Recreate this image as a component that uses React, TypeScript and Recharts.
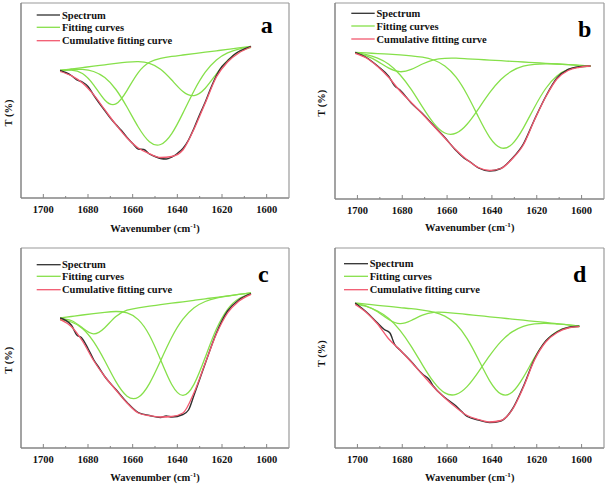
import { LineChart, Line, XAxis, YAxis } from "recharts";

// x axis ticks (wavenumber, cm-1); labels on every second one
const TICKS = [1600, 1610, 1620, 1630, 1640, 1650, 1660, 1670, 1680, 1690, 1700];
const LEGEND_NAMES = ["Spectrum", "Fitting curves", "Cumulative fitting curve"];

// ---- panel a ----
const W_A = [1692.5, 1687.5, 1682.5, 1677.5, 1672.5, 1667.5, 1662.5, 1657.5, 1652.5, 1647.5, 1642.5, 1637.5, 1632.5, 1627.5, 1622.5, 1617.5, 1612.5, 1607];
const FIT_A1 = [127.5, 127.8, 124.5, 113.2, 98.0, 94.1, 107.7, 125.4, 135.7, 139.7, 141.6, 143.0, 144.4, 145.8, 147.2, 148.6, 150.1, 151.6];
const FIT_A2 = [127.5, 128.5, 128.6, 126.5, 120.4, 108.5, 90.7, 71.0, 56.3, 53.5, 64.4, 84.9, 107.3, 125.8, 138.1, 145.1, 148.9, 151.3];
const FIT_A3 = [127.6, 129.0, 130.4, 131.8, 133.2, 134.6, 135.8, 136.3, 134.7, 128.8, 118.0, 106.5, 102.4, 109.8, 124.2, 137.6, 146.2, 150.7];
const CUM_A = [126.5, 122.3, 115, 103.3, 88.3, 73.3, 60, 50, 44.3, 40.5, 41.5, 48, 69, 95, 121, 136, 145, 151];
const SPEC_A_W = [1692.5, 1690, 1687.5, 1685, 1682.5, 1680, 1677.5, 1675, 1672.5, 1670, 1667.5, 1665, 1662.5, 1660, 1657.5, 1655, 1652.5, 1650, 1647.5, 1645, 1642.5, 1640, 1637.5, 1635, 1632.5, 1630, 1627.5, 1625, 1622.5, 1620, 1617.5, 1615, 1612.5, 1610, 1607];
const SPEC_A = [127.6, 125.5, 122.5, 118, 116, 111.5, 103, 95, 87.5, 80, 73.5, 67.5, 60.5, 54.5, 49, 48.5, 44, 41.5, 39.5, 39, 41, 44.5, 49.5, 58, 70, 83.5, 96, 110, 122.5, 131.5, 137, 142.5, 146.5, 149, 151.6];

// ---- panel b ----
const W_B = [1701, 1696, 1691, 1686, 1681, 1676, 1671, 1666, 1661, 1656, 1651, 1646, 1641, 1636, 1631, 1626, 1621, 1616, 1611, 1606, 1601, 1596];
const FIT_B1 = [145.9, 143.1, 137.6, 130.9, 127.3, 129.6, 135.0, 139.2, 140.7, 140.8, 140.2, 139.6, 138.9, 138.3, 137.6, 137.0, 136.3, 135.7, 135.0, 134.4, 133.7, 133.1];
const FIT_B2 = [146.1, 144.4, 140.9, 134.8, 124.3, 109.6, 92.1, 75.9, 66.0, 65.8, 75.0, 90.2, 106.3, 119.5, 128.1, 132.8, 134.7, 135.2, 135.0, 134.4, 133.7, 133.1];
const FIT_B3 = [146.7, 146.1, 145.4, 144.8, 144.1, 143.2, 141.8, 139.0, 133.0, 121.8, 104.0, 82.0, 61.7, 51.2, 54.9, 70.9, 91.8, 110.5, 123.0, 129.6, 132.1, 132.6];
const CUM_B = [145.7, 141, 132.5, 121.5, 108, 96.5, 85, 73, 61, 49, 39, 31.5, 28.5, 30.5, 40, 54, 79, 102, 120, 128.5, 131.7, 133];
const SPEC_B_W = [1701, 1696, 1691, 1686, 1683.5, 1681, 1676, 1671, 1666, 1661, 1656, 1652.5, 1650, 1646, 1641, 1636, 1631, 1626, 1621, 1616, 1611, 1606, 1601, 1596];
const SPEC_B = [146.7, 141.5, 133, 122.5, 113.5, 109, 96, 85.5, 73.5, 61.5, 48.5, 41, 37.5, 31, 28, 30.5, 40.5, 55, 79.5, 102.5, 121, 129.5, 132.3, 133];

// ---- panel c ----
const W_C = [1692.5, 1687.5, 1682.5, 1677.5, 1672.5, 1667.5, 1662.5, 1657.5, 1652.5, 1647.5, 1642.5, 1637.5, 1632.5, 1627.5, 1622.5, 1617.5, 1612.5, 1607];
const FIT_C1 = [129.4, 127.5, 120.2, 114.2, 120.3, 131.5, 137.8, 140.2, 141.8, 143.3, 144.8, 146.2, 147.7, 149.2, 150.7, 152.1, 153.6, 155.2];
const FIT_C2 = [128.1, 126.0, 119.5, 106.3, 87.2, 66.3, 51.8, 50.7, 64.4, 87.2, 110.7, 128.8, 140.2, 146.5, 149.9, 151.9, 153.6, 155.2];
const FIT_C3 = [130, 131.5, 133.0, 134.4, 135.7, 136.5, 135.1, 128.4, 112.8, 88.3, 63.5, 52.6, 63.9, 90.7, 118.9, 138.6, 149.2, 154.2];
const CUM_C = [128.7, 121.5, 107, 87.5, 71.5, 58, 45, 35, 32.3, 31, 31.5, 35, 55.5, 85, 114, 135, 146.8, 153.7];
const SPEC_C_W = [1692.5, 1687.5, 1685, 1683, 1680, 1677.5, 1675, 1672.5, 1667.5, 1662.5, 1657.5, 1652.5, 1647.5, 1645, 1642.5, 1637.5, 1635, 1632.5, 1627.5, 1622.5, 1617.5, 1612.5, 1607];
const SPEC_C = [130, 123, 113, 110.5, 99.5, 88.5, 80, 71.5, 58.5, 45.5, 35.5, 32.5, 30.5, 32, 31, 33.5, 38, 53, 84.5, 115, 137, 148, 154.3];

// ---- panel d ----
const W_D = [1701, 1696, 1691, 1686, 1681, 1676, 1671, 1666, 1661, 1656, 1651, 1646, 1641, 1636, 1631, 1626, 1621, 1616, 1611, 1606, 1601];
const FIT_D1 = [144.6, 141.9, 136.2, 128.5, 124.4, 127.5, 132.8, 135.6, 135.6, 134.7, 133.5, 132.4, 131.2, 130.1, 128.9, 127.8, 126.6, 125.5, 124.3, 123.2, 122.0];
const FIT_D2 = [144.1, 141.5, 137.0, 129.5, 117.7, 101.7, 83.2, 66.1, 55.1, 53.6, 61.6, 76.1, 92.3, 106.4, 116.1, 121.7, 124.1, 124.6, 124.0, 123.2, 122.0];
const FIT_D3 = [145, 143.9, 142.7, 141.6, 140.4, 139.3, 137.8, 135.8, 131.8, 123.7, 109.2, 88.5, 67.2, 54.1, 55.7, 70.6, 90.3, 106.8, 116.5, 120.5, 121.3];
const CUM_D = [143.5, 135.5, 124, 109, 98, 86, 73.5, 61, 50, 40.5, 32.5, 28.5, 26, 27.5, 38, 60.5, 88, 106, 115.3, 120, 121.3];
const SPEC_D_W = [1701, 1696, 1691, 1688, 1685.5, 1683.5, 1681, 1676, 1671, 1668, 1666, 1661, 1656, 1653.5, 1651, 1646, 1641, 1636, 1631, 1626, 1621, 1616, 1611, 1606, 1601];
const SPEC_D = [145, 136, 125, 118.5, 115, 104, 98, 86.5, 74, 68.5, 61.5, 50.5, 42, 36.5, 31.5, 28, 25.5, 27, 38.5, 61.5, 89, 107, 116, 120.5, 121.7];

const FONT = "'Liberation Serif', 'Times New Roman', serif";
const BLACK = "#303030";
const GREEN = "#86e04a";
const RED = "#f2596f";
const FRAME = "#858585";

const zip = (ws: number[], ts: number[]) => ws.map((w, i) => ({ w, t: ts[i] }));

function XTick(props: any) {
  const { x, y, payload } = props;
  const v = payload.value;
  const major = v % 20 === 0;
  return (
    <g>
      <line x1={x} x2={x} y1={y} y2={y - (major ? 4 : 2)} stroke={FRAME} strokeWidth={1} />
      {major && (
        <text x={x} y={y + 14.5} textAnchor="middle" fontFamily={FONT} fontWeight="bold" fontSize={10.5} fill="#111">
          {v}
        </text>
      )}
    </g>
  );
}

interface PanelProps {
  left: number;
  top: number;
  margin: { top: number; right: number; bottom: number; left: number };
  yMax: number;
  grid: number[];
  fits: number[][];
  cum: number[];
  specW: number[];
  spec: number[];
  letter: string;
  letterPos: [number, number];
  legend: { x1: number; x2: number; tx: number; rows: number[] };
  yLabel: [number, number];
  xLabel: [number, number];
}

function Panel(p: PanelProps) {
  const W = 303;
  const H = 242;
  // each axis takes 1px, taken back from the margins
  const m = {
    top: p.margin.top - 1,
    right: p.margin.right - 1,
    bottom: p.margin.bottom - 1,
    left: p.margin.left - 1,
  };
  return (
    <div style={{ position: "absolute", left: p.left, top: p.top, width: W, height: H }}>
      <LineChart width={W} height={H} margin={m}>
        <XAxis
          type="number"
          dataKey="w"
          domain={[1590, 1710]}
          reversed
          allowDataOverflow
          ticks={TICKS}
          interval={0}
          height={1}
          tickSize={0}
          tickMargin={0}
          tickLine={false}
          tick={(props: any) => <XTick {...props} />}
          axisLine={{ stroke: FRAME, strokeWidth: 1.5 }}
        />
        <XAxis
          xAxisId="top"
          orientation="top"
          type="number"
          domain={[1590, 1710]}
          reversed
          height={1}
          tick={false}
          tickLine={false}
          axisLine={{ stroke: "#9a9a9a", strokeWidth: 1.2 }}
        />
        <YAxis
          type="number"
          domain={[0, p.yMax]}
          allowDataOverflow
          width={1}
          tick={false}
          tickLine={false}
          axisLine={{ stroke: FRAME, strokeWidth: 1.5 }}
        />
        <YAxis
          yAxisId="right"
          orientation="right"
          type="number"
          domain={[0, p.yMax]}
          width={1}
          tick={false}
          tickLine={false}
          axisLine={{ stroke: "#9a9a9a", strokeWidth: 1.2 }}
        />
        {p.fits.map((f, i) => (
          <Line
            key={i}
            data={zip(p.grid, f)}
            dataKey="t"
            type="natural"
            stroke={GREEN}
            strokeWidth={1.3}
            dot={false}
            isAnimationActive={false}
          />
        ))}
        <Line
          data={zip(p.specW, p.spec)}
          dataKey="t"
          type="monotone"
          stroke={BLACK}
          strokeWidth={1.4}
          dot={false}
          isAnimationActive={false}
        />
        <Line
          data={zip(p.grid, p.cum)}
          dataKey="t"
          type="monotone"
          stroke={RED}
          strokeWidth={1.3}
          dot={false}
          isAnimationActive={false}
        />
      </LineChart>
      <svg
        width={W}
        height={H}
        style={{ position: "absolute", left: 0, top: 0, pointerEvents: "none" }}
        fontFamily={FONT}
        fontWeight="bold"
      >
        {LEGEND_NAMES.map((name, i) => (
          <g key={name}>
            <line
              x1={p.legend.x1}
              x2={p.legend.x2}
              y1={p.legend.rows[i]}
              y2={p.legend.rows[i]}
              stroke={[BLACK, GREEN, RED][i]}
              strokeWidth={1.3}
            />
            <text x={p.legend.tx} y={p.legend.rows[i] + 3.5} fontSize={10.5} fill="#111">
              {name}
            </text>
          </g>
        ))}
        <text x={p.letterPos[0]} y={p.letterPos[1]} textAnchor="middle" fontSize={24} fill="#000">
          {p.letter}
        </text>
        <text
          x={p.yLabel[0]}
          y={p.yLabel[1]}
          transform={`rotate(-90 ${p.yLabel[0]} ${p.yLabel[1]})`}
          textAnchor="middle"
          dominantBaseline="central"
          fontSize={10.5}
          fill="#111"
        >
          T (%)
        </text>
        <text x={p.xLabel[0]} y={p.xLabel[1]} textAnchor="middle" fontSize={10.5} fill="#111">
          Wavenumber (cm
          <tspan dy={-4} fontSize={7}>-1</tspan>
          <tspan dy={4}>)</tspan>
        </text>
      </svg>
    </div>
  );
}

export default function App() {
  return (
    <div style={{ position: "absolute", left: 0, top: 0, width: 606, height: 484, background: "#fff" }}>
      <Panel
        left={0}
        top={0}
        margin={{ top: 3, right: 14, bottom: 44, left: 21 }}
        yMax={195}
        grid={W_A}
        fits={[FIT_A1, FIT_A2, FIT_A3]}
        cum={CUM_A}
        specW={SPEC_A_W}
        spec={SPEC_A}
        letter="a"
        letterPos={[266.7, 33]}
        legend={{ x1: 36.7, x2: 60, tx: 62, rows: [15, 27.3, 40.7] }}
        yLabel={[8.5, 113]}
        xLabel={[155, 232]}
      />
      <Panel
        left={303}
        top={0}
        margin={{ top: 3, right: 2, bottom: 43, left: 32 }}
        yMax={196}
        grid={W_B}
        fits={[FIT_B1, FIT_B2, FIT_B3]}
        cum={CUM_B}
        specW={SPEC_B_W}
        spec={SPEC_B}
        letter="b"
        letterPos={[281.7, 36.5]}
        legend={{ x1: 48.3, x2: 71.7, tx: 73.5, rows: [13.3, 26, 39] }}
        yLabel={[18.3, 103.3]}
        xLabel={[166.7, 230.5]}
      />
      <Panel
        left={0}
        top={242}
        margin={{ top: 6, right: 14, bottom: 36, left: 21 }}
        yMax={200}
        grid={W_C}
        fits={[FIT_C1, FIT_C2, FIT_C3]}
        cum={CUM_C}
        specW={SPEC_C_W}
        spec={SPEC_C}
        letter="c"
        letterPos={[263.3, 40]}
        legend={{ x1: 36.7, x2: 60.7, tx: 62, rows: [22.7, 34.3, 47.7] }}
        yLabel={[8.3, 118.3]}
        xLabel={[155, 238.7]}
      />
      <Panel
        left={303}
        top={242}
        margin={{ top: 6, right: 2, bottom: 36, left: 32 }}
        yMax={200}
        grid={W_D}
        fits={[FIT_D1, FIT_D2, FIT_D3]}
        cum={CUM_D}
        specW={SPEC_D_W}
        spec={SPEC_D}
        letter="d"
        letterPos={[276.7, 40]}
        legend={{ x1: 41, x2: 65, tx: 66.7, rows: [21.7, 34.3, 47.7] }}
        yLabel={[18.3, 111.7]}
        xLabel={[166.7, 238.7]}
      />
    </div>
  );
}
